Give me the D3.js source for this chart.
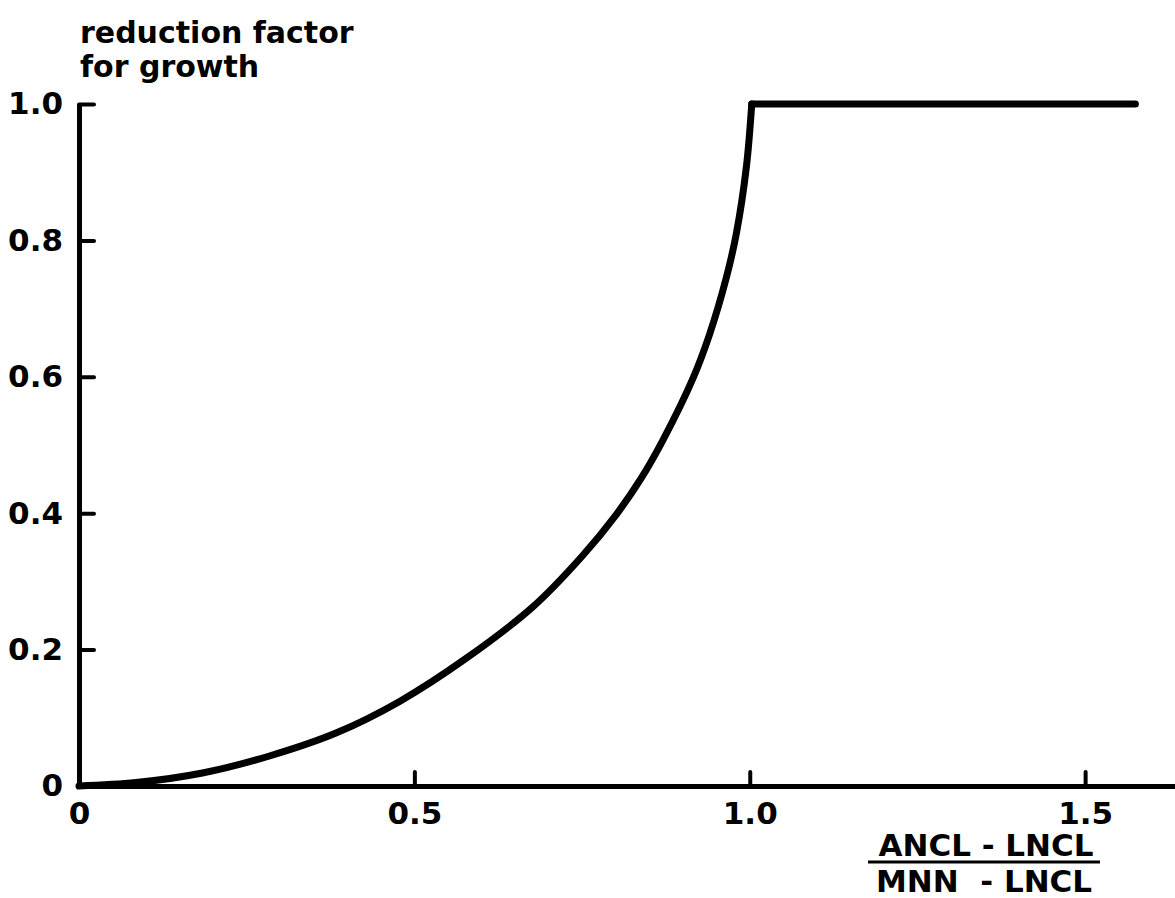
<!DOCTYPE html>
<html>
<head>
<meta charset="utf-8">
<script src="https://cdn.jsdelivr.net/npm/d3@7"></script>
<style>
  html, body { margin: 0; padding: 0; background: #fff; }
  svg { display: block; }
  text { font-family: "DejaVu Sans", sans-serif; font-weight: bold; fill: #000; }
</style>
</head>
<body>
<svg id="chart" width="1175" height="898"></svg>
<script>
// ---- data ----
const ratioX = [0, 0.085, 0.184, 0.284, 0.384, 0.478, 0.577, 0.677, 0.751, 0.801, 0.838, 0.871, 0.915, 0.940, 0.965, 0.980, 0.995, 1.003];
const factorY = [0, 0.005, 0.019, 0.044, 0.078, 0.124, 0.187, 0.263, 0.338, 0.398, 0.451, 0.508, 0.597, 0.662, 0.745, 0.810, 0.908, 1.0];
const plateauX = [1.003, 1.575];
const plateauY = [1.0, 1.0];
const xTickValues = [0, 0.5, 1.0, 1.5];
const xTickLabels = ["0", "0.5", "1.0", "1.5"];
const yTickValues = [0, 0.2, 0.4, 0.6, 0.8, 1.0];
const yTickLabels = ["0", "0.2", "0.4", "0.6", "0.8", "1.0"];
const yTitle = ["reduction factor", "for growth"];
const xTitleNum = "ANCL - LNCL";
const xTitleDen = "MNN  - LNCL";

const svg = d3.select("#chart");
const x = d3.scaleLinear().domain([0, 1.634]).range([79, 1175]);
const y = d3.scaleLinear().domain([0, 1]).range([786, 104]);

// y axis
const yAxis = d3.axisLeft(y)
  .tickValues(yTickValues)
  .tickFormat((d, i) => yTickLabels[i])
  .tickSizeInner(-15).tickSizeOuter(0).tickPadding(16);
const gy = svg.append("g").attr("transform", `translate(${x(0)},0)`).call(yAxis);
gy.select(".domain").attr("stroke", "#000").attr("stroke-width", 5);
gy.selectAll(".tick line").attr("stroke", "#000").attr("stroke-width", 4).attr("stroke-linecap", "round");
gy.selectAll(".tick text").attr("font-size", 31).attr("font-family", "DejaVu Sans").attr("font-weight", "bold");

// x axis
const xAxis = d3.axisBottom(x)
  .tickValues(xTickValues)
  .tickFormat((d, i) => xTickLabels[i])
  .tickSizeInner(-14).tickSizeOuter(0).tickPadding(16);
const gx = svg.append("g").attr("transform", `translate(0,${y(0)})`).call(xAxis);
gx.select(".domain").attr("stroke", "#000").attr("stroke-width", 5);
gx.selectAll(".tick line").attr("stroke", "#000").attr("stroke-width", 4).attr("stroke-linecap", "round");
gx.selectAll(".tick text").attr("font-size", 31).attr("font-family", "DejaVu Sans").attr("font-weight", "bold");
gx.selectAll(".tick").filter(d => d === 0).select("line").remove();
gy.selectAll(".tick").filter(d => d === 0).select("line").remove();

// curve
const riseData = ratioX.map((v, i) => [v, factorY[i]]);
const plateauData = plateauX.map((v, i) => [v, plateauY[i]]);
const rise = d3.line().x(d => x(d[0])).y(d => y(d[1])).curve(d3.curveCatmullRom.alpha(0.5));
const flat = d3.line().x(d => x(d[0])).y(d => y(d[1]));
svg.append("path").datum(riseData)
  .attr("d", rise)
  .attr("fill", "none").attr("stroke", "#000").attr("stroke-width", 7)
  .attr("stroke-linejoin", "round").attr("stroke-linecap", "round");
svg.append("path").datum(plateauData)
  .attr("d", flat)
  .attr("fill", "none").attr("stroke", "#000").attr("stroke-width", 7)
  .attr("stroke-linecap", "round");

// y title
svg.append("text").attr("x", 80).attr("y", 43).attr("font-size", 30).text(yTitle[0]);
svg.append("text").attr("x", 80).attr("y", 77).attr("font-size", 30).text(yTitle[1]);

// x title as fraction
svg.append("text").attr("x", 986).attr("y", 856).attr("text-anchor", "middle").attr("font-size", 31).text(xTitleNum);
svg.append("line").attr("x1", 868).attr("x2", 1100).attr("y1", 862).attr("y2", 862)
  .attr("stroke", "#000").attr("stroke-width", 3);
svg.append("text").attr("x", 984).attr("y", 892).attr("text-anchor", "middle").attr("font-size", 31)
  .attr("xml:space", "preserve").style("white-space", "pre").text(xTitleDen);
</script>
</body>
</html>
